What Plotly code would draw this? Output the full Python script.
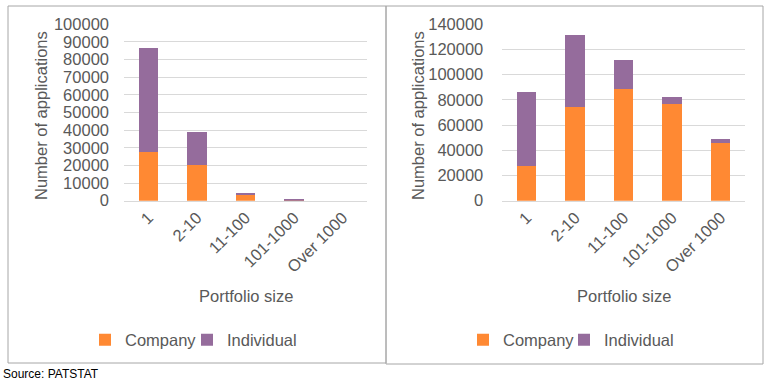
import plotly.graph_objects as go

categories = ["1", "2-10", "11-100", "101-1000", "Over 1000"]
left_company = [27800, 20300, 3400, 200, 0]
left_individual = [58600, 18900, 1100, 600, 0]
right_company = [27800, 74100, 88400, 77000, 46000]
right_individual = [58500, 57400, 23000, 5500, 3000]

series_names = ["Company", "Individual"]
colors = ["#FF8933", "#956C9C"]
left_yticks = list(range(0, 100001, 10000))
right_yticks = list(range(0, 140001, 20000))

W, H = 773, 386
font_family = "Liberation Sans, Arial, sans-serif"
txt = "#595959"
FS = 16.5

def px(x):
    return x / W

def py(y):
    return 1 - y / H

fig = go.Figure()

panels = [
    ("x", "y", [left_company, left_individual], ["legend", "legend3"]),
    ("x2", "y2", [right_company, right_individual], ["legend2", "legend4"]),
]
for xa, ya, series, legs in panels:
    for vals, name, col, lg in zip(series, series_names, colors, legs):
        fig.add_trace(go.Bar(x=categories, y=vals, name=name,
                             marker=dict(color=col, line=dict(width=0)),
                             xaxis=xa, yaxis=ya, legend=lg))

ydom = [py(200.7), py(24.3)]
tf = dict(family=font_family, size=FS, color=txt)

def xax(dom, anchor):
    return dict(domain=dom, anchor=anchor, tickangle=-45, showgrid=False, showline=True,
                linecolor="#D9D9D9", linewidth=1, zeroline=False, ticks="", tickfont=tf,
                automargin=False)

def yax(anchor, rng, tv, standoff):
    return dict(domain=ydom, anchor=anchor, range=rng, tickvals=tv, ticktext=[str(v) for v in tv],
                showgrid=True, gridcolor="#D9D9D9", gridwidth=1, showline=False, zeroline=False,
                ticks="", tickfont=tf, automargin=False, ticklabelstandoff=standoff)

def leg(x_text_start):
    return dict(orientation="h", xanchor="left", yanchor="middle", x=px(x_text_start - 40), y=py(340),
                font=dict(family=font_family, size=FS, color=txt), bgcolor="rgba(0,0,0,0)",
                itemwidth=30)

fig.update_layout(
    width=W, height=H,
    margin=dict(l=0, r=0, t=0, b=0, autoexpand=False),
    paper_bgcolor="white", plot_bgcolor="white",
    barmode="stack", bargap=0.6,
    font=dict(family=font_family, color=txt),
    xaxis=xax([px(124), px(367)], "y"),
    yaxis=yax("x", [0, 100000], left_yticks, 14),
    xaxis2=xax([px(502.3), px(745)], "y2"),
    yaxis2=yax("x2", [0, 140000], right_yticks, 18),
    legend=leg(125),
    legend3=leg(227),
    legend2=leg(503),
    legend4=leg(604),
    showlegend=True,
)

ann_font = dict(family=font_family, size=FS, color=txt)
annotations = [
    dict(text="Number of applications", x=px(41), y=py(116), textangle=-90, showarrow=False,
         xref="paper", yref="paper", xanchor="center", yanchor="middle", font=ann_font),
    dict(text="Number of applications", x=px(418), y=py(116), textangle=-90, showarrow=False,
         xref="paper", yref="paper", xanchor="center", yanchor="middle", font=ann_font),
    dict(text="Portfolio size", x=px(246), y=py(296), showarrow=False, xref="paper", yref="paper",
         xanchor="center", yanchor="middle", font=ann_font),
    dict(text="Portfolio size", x=px(624), y=py(296), showarrow=False, xref="paper", yref="paper",
         xanchor="center", yanchor="middle", font=ann_font),
    dict(text="Source: PATSTAT", x=px(1), y=py(374), showarrow=False, xref="paper", yref="paper",
         xanchor="left", yanchor="middle", font=dict(family=font_family, size=12, color="#000000")),
]
fig.update_layout(annotations=annotations)

shapes = [
    dict(type="rect", xref="paper", yref="paper", x0=px(8), x1=px(386), y0=py(363), y1=py(6),
         line=dict(color="#A6A6A6", width=1)),
    dict(type="rect", xref="paper", yref="paper", x0=px(386), x1=px(763), y0=py(364), y1=py(6),
         line=dict(color="#A6A6A6", width=1)),
]
fig.update_layout(shapes=shapes)

fig.write_html("out.html", config={"displayModeBar": False},
               post_script="document.body.style.margin='0';")
